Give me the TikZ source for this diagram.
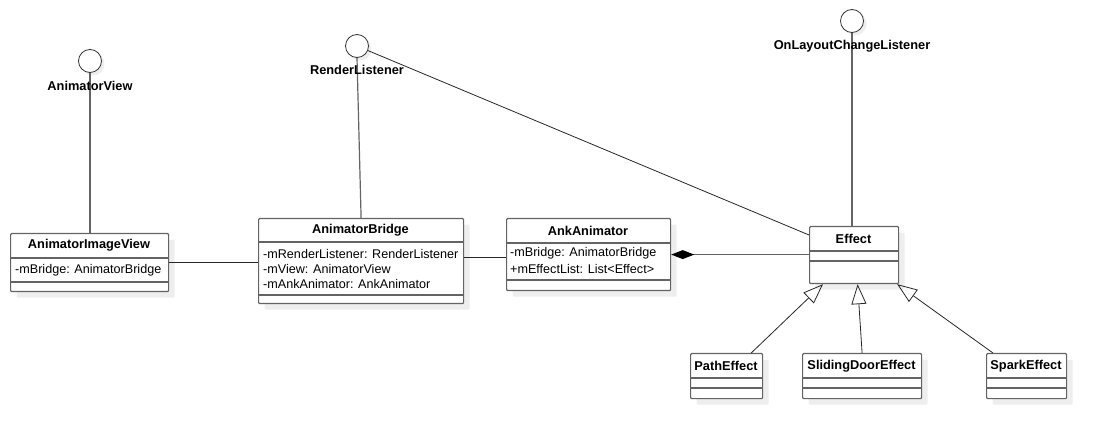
\documentclass[tikz,border=0pt]{standalone}
\usepackage{fontspec}
\setmainfont{Liberation Sans}
\usetikzlibrary{arrows.meta,shadows,calc}
\definecolor{boxc}{RGB}{100,100,100}
\definecolor{shc}{RGB}{238,238,238}
\tikzset{
  cls/.style={draw=boxc, line width=1.2pt, fill=white, rounded corners=1pt, inner sep=0pt,
    anchor=north west, drop shadow={shadow xshift=6pt, shadow yshift=-6pt, fill=shc, opacity=1}},
  sep/.style={draw=boxc, line width=1.2pt},
  iface/.style={circle, draw=black!80, line width=0.8pt, fill=white, minimum size=23pt, inner sep=0pt,
    drop shadow={shadow xshift=3pt, shadow yshift=-3pt, fill=shc, opacity=1}},
  ttl/.style={font=\fontsize{12.8}{14}\selectfont\bfseries, inner sep=0pt},
  attr/.style={font=\fontsize{12.6}{14}\selectfont, inner sep=0pt, anchor=west},
  conn/.style={draw=black!85, line width=0.8pt},
  lol/.style={draw=boxc, line width=1.2pt},
  gen/.style={conn, -{Triangle[open, length=20pt, width=15pt, line width=0.8pt]}},
  comp/.style={draw=boxc, line width=1.2pt, {Diamond[length=23pt, width=9pt, color=black, fill=black]}-},
}
\begin{document}
\begin{tikzpicture}[x=1pt, y=-1pt]
\useasboundingbox (0,0) rectangle (1106,438);

% interfaces
\node[iface] (ivc) at (90,61) {};
\node[iface] (rlc) at (357,46) {};
\node[iface] (olc) at (852,21) {};

% classes
\node[cls, minimum width=158pt, minimum height=58pt] (aiv) at (10,233) {};
\node[cls, minimum width=205pt, minimum height=85pt] (ab) at (258,218) {};
\node[cls, minimum width=164pt, minimum height=72pt] (ank) at (506,218) {};
\node[cls, minimum width=89pt, minimum height=57pt] (eff) at (809,226) {};
\node[cls, minimum width=72pt, minimum height=45pt] (pe) at (690,353) {};
\node[cls, minimum width=119pt, minimum height=45pt] (sd) at (802,353) {};
\node[cls, minimum width=80pt, minimum height=45pt] (sp) at (986,353) {};

% separators
\draw[sep] (10,258) -- (168,258);
\draw[sep] (10,282) -- (168,282);
\draw[sep] (258,242) -- (463,242);
\draw[sep] (258,295) -- (463,295);
\draw[sep] (506,243) -- (670,243);
\draw[sep] (506,280) -- (670,280);
\draw[sep] (809,251) -- (898,251);
\draw[sep] (809,261) -- (898,261);
\foreach \a/\b in {690/762, 802/921, 986/1066} {
  \draw[sep] (\a,378) -- (\b,378);
  \draw[sep] (\a,388) -- (\b,388);
}

% texts
\node[ttl] (aivt) at (89,245.5) {AnimatorImageView};
\node[attr] (aiva) at (15,270) {-mBridge: AnimatorBridge};
\node[ttl] (abt) at (360.5,230) {AnimatorBridge};
\node[attr] (aba1) at (263,253.5) {-mRenderListener: RenderListener};
\node[attr] (aba2) at (263,268.5) {-mView: AnimatorView};
\node[attr] (aba3) at (263,283.5) {-mAnkAnimator: AnkAnimator};
\node[ttl] (ankt) at (588,230.5) {AnkAnimator};
\node[attr] (anka1) at (510,253.5) {-mBridge: AnimatorBridge};
\node[attr] (anka2) at (510,268.5) {+mEffectList: List<Effect>};
\node[ttl] (efft) at (853.5,238.5) {Effect};
\node[ttl] (pet) at (726,366) {PathEffect};
\node[ttl] (sdt) at (861.5,366) {SlidingDoorEffect};
\node[ttl] (spt) at (1026,366) {SparkEffect};

% lollipops
\draw[lol] (ivc.south) -- (ivc.south |- aiv.north);
\draw[lol] (rlc.south) -- (ab.north);
\draw[lol] (olc.south) -- (olc.south |- eff.north);

% interface labels
\node[ttl] (ivl) at (90,86) {AnimatorView};
\node[ttl] (rll) at (357,70) {RenderListener};
\node[ttl] (oll) at (852,46) {OnLayoutChangeListener};

% connectors
\draw[conn] (rlc) -- ($(eff.north west)+(0,9)$);
\draw[conn] (aiv.east) -- (aiv.east -| ab.west);
\coordinate (abr) at ($(ab.north east)+(0,39)$);
\draw[conn] (abr) -- (abr -| ank.west);
\draw[comp] (ank.east) -- (ank.east -| eff.west);
\draw[gen] ($(pe.north east)+(-12,0)$) -- ($(eff.south west)+(14,0)$);
\draw[gen] (sd.north) -- ($(eff.south)+(3.5,0)$);
\draw[gen] ($(sp.north west)+(7,0)$) -- ($(eff.south east)+(-2,0)$);
\end{tikzpicture}
\end{document}
